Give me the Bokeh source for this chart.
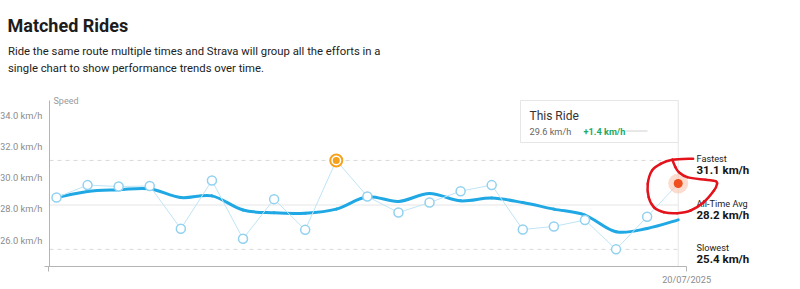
import numpy as np
from bokeh.plotting import figure
from bokeh.models import Range1d, FixedTicker, CustomJSTickFormatter, PrintfTickFormatter
from bokeh.core.properties import value
from bokeh.embed import file_html
from bokeh.resources import INLINE

# ---------------- data ----------------
title_text = "Matched Rides"
subtitle_lines = [
    "Ride the same route multiple times and Strava will group all the efforts in a",
    "single chart to show performance trends over time.",
]
ride_index = list(range(21))
ride_speed = [28.72, 29.52, 29.43, 29.46, 26.72, 29.81, 26.08, 28.62, 26.65, 31.10,
              28.79, 27.76, 28.40, 29.13, 29.52, 26.67, 26.87, 27.28, 25.40, 27.49, 29.62]
trend_speed = [28.72, 29.11, 29.22, 29.28, 28.72, 28.83, 27.92, 27.74, 27.72, 27.98,
               28.77, 28.47, 28.98, 28.51, 28.69, 28.40, 27.98, 27.60, 26.53, 26.74, 27.29]
y_ticks = [26, 28, 30, 32, 34]
x_ticks = [-0.26, 20.27]
date_label = "20/07/2025"
axis_title = "Speed"
ref_names = ["Fastest", "All-Time Avg", "Slowest"]
box_title = "This Ride"
# hand-drawn red highlight around this ride (index units, km/h)
annot_x = [20.48, 19.81, 19.43, 19.16, 19.02, 19.05, 19.22, 19.54, 19.97, 20.40,
           20.82, 21.15, 21.25, 21.20, 20.88, 20.29, 20.02, 19.91, 19.81]
annot_y = [31.21, 31.14, 30.88, 30.46, 29.60, 28.74, 28.10, 27.78, 27.72, 27.89,
           28.42, 29.17, 29.60, 29.77, 29.86, 30.03, 30.35, 30.67, 31.14]

# ---------------- layout ----------------
W, H = 800, 289
X0, X1 = -1.8015, 23.934
Y0, Y1 = 22.827, 41.353


def dx(px):
    return X0 + px / W * (X1 - X0)


def dy(py):
    return Y1 - py / H * (Y1 - Y0)


PX_Y = H / (Y1 - Y0)  # pixels per km/h

FONT_NAME = "Roboto"
FONT = value(FONT_NAME)
GREY = "#8c8c8c"

fastest = max(ride_speed)
slowest = min(ride_speed)
avg = float(np.mean(ride_speed))
this_ride = ride_speed[-1]
last_x = ride_index[-1]
i_fast = ride_speed.index(fastest)

p = figure(width=W, height=H, x_range=Range1d(X0, X1), y_range=Range1d(Y0, Y1),
           min_border=0, toolbar_location=None, output_backend="svg",
           outline_line_color=None, background_fill_color="white",
           border_fill_color="white")
p.title.visible = False
p.xgrid.visible = False
p.ygrid.visible = False

# y axis
ya = p.yaxis[0]
ya.fixed_location = dx(49)
ya.bounds = (dy(266), dy(100))
ya.ticker = FixedTicker(ticks=y_ticks)
ya.formatter = PrintfTickFormatter(format="%.1f km/h")
ya.major_tick_out = 0
ya.major_tick_in = 0
ya.minor_tick_out = 0
ya.minor_tick_in = 0
ya.axis_line_color = "#b4b4b4"
ya.axis_line_width = 1
ya.major_label_standoff = 7
ya.major_label_text_font = FONT_NAME
ya.major_label_text_font_size = "9.4px"
ya.major_label_text_color = GREY

# x axis
xa = p.xaxis[0]
xa.fixed_location = dy(266)
xa.bounds = (dx(44), dx(686))
xa.ticker = FixedTicker(ticks=x_ticks)
xa.formatter = CustomJSTickFormatter(args=dict(lab=date_label),
                                     code="return tick > 10 ? lab : ''")
xa.major_tick_out = 5
xa.major_tick_in = 0
xa.minor_tick_out = 0
xa.minor_tick_in = 0
xa.axis_line_color = "#b4b4b4"
xa.major_tick_line_color = "#b4b4b4"
xa.major_label_standoff = 2
xa.major_label_text_font = FONT_NAME
xa.major_label_text_font_size = "9.2px"
xa.major_label_text_color = GREY

# reference lines
x_left = dx(49)
p.segment(x0=[x_left, x_left], y0=[fastest, slowest], x1=[last_x, last_x], y1=[fastest, slowest],
          line_color="#d9d9d9", line_width=1, line_dash="4 4")
p.segment(x0=[x_left], y0=[avg], x1=[last_x], y1=[avg], line_color="#eeeeee", line_width=1.5)
# vertical marker line at this ride
p.segment(x0=[last_x], y0=[dy(266)], x1=[last_x], y1=[dy(100)], line_color="#e6e6e6", line_width=1)

# "This Ride" box
p.quad(left=[dx(520)], right=[last_x], top=[dy(100)], bottom=[dy(142)],
       fill_color="white", line_color="#e6e6e6", line_width=1)
p.text(x=[dx(529)], y=[dy(115)], text=[box_title], text_font=FONT,
       text_font_size=value("12px"), text_color="#333333", text_baseline="middle")
p.text(x=[dx(529)], y=[dy(130.5)], text=[f"{this_ride:.1f} km/h"], text_font=FONT,
       text_font_size=value("9.2px"), text_color="#666666", text_baseline="middle")
p.text(x=[dx(583)], y=[dy(130.5)], text=[f"+{this_ride - avg:.1f} km/h"], text_font=FONT,
       text_font_size=value("9.2px"), text_font_style="bold", text_color="#1fa862",
       text_baseline="middle")
p.segment(x0=[dx(625)], y0=[dy(130.5)], x1=[dx(647)], y1=[dy(130.5)], line_color="#d0d0d0", line_width=1)


def catmull_bezier(xs, ys):
    xs = np.asarray(xs, float)
    ys = np.asarray(ys, float)
    px = np.concatenate([[xs[0]], xs, [xs[-1]]])
    py = np.concatenate([[ys[0]], ys, [ys[-1]]])
    x0, y0 = px[1:-2], py[1:-2]
    x1, y1 = px[2:-1], py[2:-1]
    cx0 = x0 + (px[2:-1] - px[0:-3]) / 6
    cy0 = y0 + (py[2:-1] - py[0:-3]) / 6
    cx1 = x1 - (px[3:] - px[1:-2]) / 6
    cy1 = y1 - (py[3:] - py[1:-2]) / 6
    return dict(x0=x0, y0=y0, x1=x1, y1=y1, cx0=cx0, cy0=cy0, cx1=cx1, cy1=cy1)


# trend (thick smooth line)
p.bezier(**catmull_bezier(ride_index, trend_speed), line_color="#1fa8e3",
         line_width=3, line_cap="round")
# thin line through the rides
p.line(ride_index, ride_speed, line_color="#bfe4f6", line_width=1)

# ride markers
mask = [i for i in range(len(ride_index)) if i not in (i_fast, len(ride_index) - 1)]
p.scatter([ride_index[i] for i in mask], [ride_speed[i] for i in mask], size=9,
          fill_color="white", line_color="#92d1f0", line_width=1.5)

# fastest marker
p.scatter([ride_index[i_fast]], [fastest], size=14, fill_color="#f5a11c", line_color=None)
p.scatter([ride_index[i_fast]], [fastest], size=10, fill_color="white", line_color=None)
p.scatter([ride_index[i_fast]], [fastest], size=7, fill_color="#f5a11c", line_color=None)

# this ride marker
p.scatter([last_x], [this_ride], size=20, fill_color="#f8c4ad", fill_alpha=0.6, line_color=None)
p.scatter([last_x], [this_ride], size=9, fill_color="#f0501e", line_color=None)

# right-hand reference labels
ref_vals = [fastest, avg, slowest]
p.text(x=[dx(696)] * 3, y=[v + 1.5 / PX_Y for v in ref_vals], text=ref_names,
       text_font=FONT, text_font_size=value("9.2px"), text_color="#222222",
       text_baseline="middle")
p.text(x=[dx(696)] * 3, y=[v - 9.5 / PX_Y for v in ref_vals],
       text=[f"{v:.1f} km/h" for v in ref_vals], text_font=FONT,
       text_font_size=value("11.5px"), text_font_style="bold", text_color="#161616",
       text_baseline="middle")

# hand-drawn highlight
p.bezier(**catmull_bezier(annot_x, annot_y), line_color="#e3121b", line_width=2.5,
         line_cap="round")

# axis title
p.text(x=[dx(53)], y=[dy(100)], text=[axis_title], text_font=FONT,
       text_font_size=value("9px"), text_color="#9a9a9a", text_baseline="middle")

# title and subtitle
p.text(x=[dx(7)], y=[dy(25)], text=[title_text], text_font=FONT,
       text_font_size=value("18px"), text_font_style="bold", text_color="#1c1c1c",
       text_baseline="alphabetic")
p.text(x=[dx(7.5)] * 2, y=[dy(51), dy(68)], text=subtitle_lines, text_font=FONT,
       text_font_size=value("11.3px"), text_color="#222222", text_baseline="alphabetic")

open("out.html", "w").write(file_html(p, INLINE))
